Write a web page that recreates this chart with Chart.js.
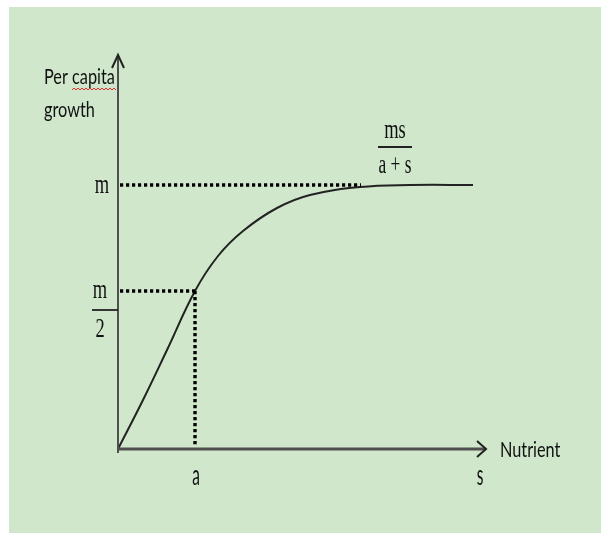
<!DOCTYPE html>
<html>
<head>
<meta charset="utf-8">
<title>Per capita growth vs nutrient</title>
<script src="https://cdn.jsdelivr.net/npm/chart.js@4.4.1/dist/chart.umd.min.js"></script>
<style>
  body { margin: 0; background: #fff; }
  #panel {
    position: absolute; left: 9px; top: 7px; width: 592px; height: 526px;
    background: #d0e7cc;
  }
  #wrap { position: absolute; left: 0; top: 0; width: 604px; height: 533px; }
</style>
</head>
<body>
<div id="panel"></div>
<div id="wrap"><canvas id="chart" width="604" height="533"></canvas></div>
<script>
// nutrient level s and growth along the saturating curve
const curveS = [0, 25, 49, 77, 100, 125, 159, 192, 242, 292, 355];
const curveGrowth = [0, 49, 99, 158, 193, 218, 241, 254, 262, 264, 264];

// reference levels
const mLevel = 264;
const halfLevel = 158;
const aPos = 77;
const sMax = 368;
const growthMax = 394;

const pts = (xs, ys) => xs.map((x, i) => ({ x: x, y: ys[i] }));

const dotted = {
  borderColor: "#000",
  borderWidth: 3.4,
  borderDash: [3.2, 2.8],
  borderCapStyle: "butt",
  pointRadius: 0,
  tension: 0,
  fill: false,
};

// text squeezed horizontally, like the narrow fonts of the sketch
function narrowText(ctx, text, x, y, font, sx, align) {
  ctx.save();
  ctx.font = font;
  ctx.textAlign = align || "left";
  ctx.textBaseline = "alphabetic";
  ctx.translate(x, y);
  ctx.scale(sx, 1);
  ctx.fillText(text, 0, 0);
  ctx.restore();
}

// axes with open arrow heads plus all the text
const sketchPlugin = {
  id: "sketch",
  afterDatasetsDraw(chart) {
    const { ctx, scales } = chart;
    const x = scales.x, y = scales.y;
    const x0 = x.getPixelForValue(0), y0 = y.getPixelForValue(0);
    const xEnd = x.getPixelForValue(sMax), yEnd = y.getPixelForValue(growthMax);

    ctx.save();
    ctx.strokeStyle = "#4f4f4f";
    ctx.lineCap = "butt";
    ctx.lineWidth = 2;
    ctx.beginPath();
    ctx.moveTo(x0, y0 + 4);
    ctx.lineTo(x0, yEnd);
    ctx.stroke();
    ctx.lineWidth = 3;
    ctx.beginPath();
    ctx.moveTo(x0, y0);
    ctx.lineTo(xEnd, y0);
    ctx.stroke();

    ctx.strokeStyle = "#222";
    ctx.lineWidth = 2;
    ctx.beginPath();
    ctx.moveTo(x0 - 6, yEnd + 13);
    ctx.lineTo(x0, yEnd);
    ctx.lineTo(x0 + 6, yEnd + 13);
    ctx.stroke();
    ctx.beginPath();
    ctx.moveTo(xEnd - 9, y0 - 8);
    ctx.lineTo(xEnd, y0);
    ctx.lineTo(xEnd - 9, y0 + 8);
    ctx.stroke();

    // sans labels
    ctx.fillStyle = "#111";
    const sans = "22px Lato";
    narrowText(ctx, "Per capita", 44, 84, sans, 0.74);
    narrowText(ctx, "growth", 44, 117, sans, 0.74);
    narrowText(ctx, "Nutrient", xEnd + 14, y0 + 8, sans, 0.74);
    narrowText(ctx, "a", x.getPixelForValue(aPos) + 1, y0 + 36, "28px Lato", 0.55, "center");
    narrowText(ctx, "s", x.getPixelForValue(sMax) - 6, y0 + 36, "28px Lato", 0.55, "center");

    // spell-check squiggle under "capita"
    ctx.strokeStyle = "#e0302a";
    ctx.lineWidth = 1;
    ctx.beginPath();
    for (let i = 0; i <= 22; i++) {
      const px = 72 + i * 2;
      const py = 89 + (i % 2 ? -1 : 1);
      if (i === 0) ctx.moveTo(px, py); else ctx.lineTo(px, py);
    }
    ctx.stroke();

    // serif labels
    const serif = "28px 'Liberation Serif'";
    narrowText(ctx, "m", x0 - 16, y.getPixelForValue(mLevel) + 8, serif, 0.66, "center");

    const hy = y.getPixelForValue(halfLevel);
    narrowText(ctx, "m", x0 - 18, hy + 7, serif, 0.66, "center");
    narrowText(ctx, "2", x0 - 18, hy + 46, serif, 0.66, "center");
    ctx.strokeStyle = "#222";
    ctx.lineWidth = 1.8;
    ctx.beginPath();
    ctx.moveTo(x0 - 26, hy + 19);
    ctx.lineTo(x0, hy + 19);
    ctx.stroke();

    const fx = x.getPixelForValue(277), fy = y.getPixelForValue(mLevel);
    narrowText(ctx, "ms", fx, fy - 47, serif, 0.66, "center");
    narrowText(ctx, "a + s", fx, fy - 12, serif, 0.62, "center");
    ctx.beginPath();
    ctx.moveTo(fx - 17, fy - 38);
    ctx.lineTo(fx + 17, fy - 38);
    ctx.stroke();
    ctx.restore();
  },
};

new Chart(document.getElementById("chart"), {
  type: "line",
  data: {
    datasets: [
      Object.assign({}, dotted, { data: pts([2, 243], [mLevel, mLevel]) }),
      Object.assign({}, dotted, { data: pts([2, aPos], [halfLevel, halfLevel]) }),
      Object.assign({}, dotted, { data: pts([aPos, aPos], [halfLevel, 2]) }),
      {
        data: pts(curveS, curveGrowth),
        borderColor: "#222",
        borderWidth: 2,
        pointRadius: 0,
        tension: 0.4,
        fill: false,
      },
    ],
  },
  options: {
    responsive: false,
    animation: false,
    events: [],
    clip: false,
    layout: { padding: { left: 118, right: 118, top: 55, bottom: 84 } },
    plugins: { legend: { display: false }, tooltip: { enabled: false } },
    scales: {
      x: { type: "linear", min: 0, max: sMax, display: false },
      y: { type: "linear", min: 0, max: growthMax, display: false },
    },
  },
  plugins: [sketchPlugin],
});
</script>
</body>
</html>
